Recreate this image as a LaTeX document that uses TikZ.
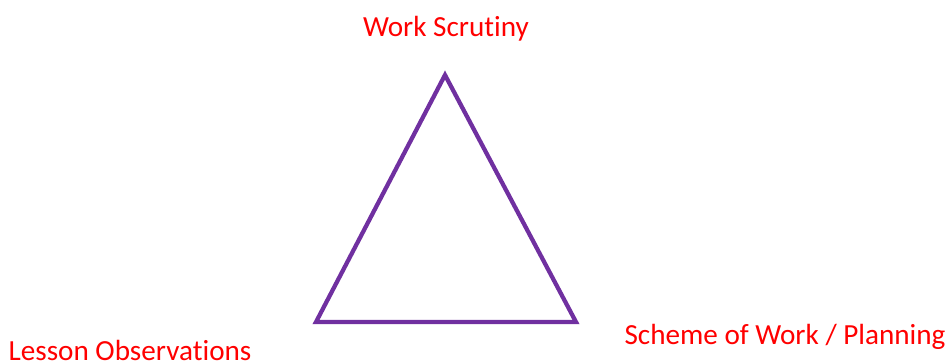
\documentclass[tikz,border=0pt]{standalone}
\usepackage{fontspec}
\setmainfont{Carlito}[Ligatures=NoCommon]
\definecolor{tripurple}{HTML}{7030A0}
\definecolor{labred}{HTML}{FF0000}
\begin{document}
\begin{tikzpicture}[x=0.02cm,y=-0.02cm,
  lab/.style={text=labred,font=\fontsize{16.6pt}{19pt}\selectfont,inner sep=0pt},
  tri/.style={draw=tripurple,line width=0.085cm,line join=miter}]
\useasboundingbox (0,0) rectangle (951,363);
\coordinate (apex) at (445,75);
\coordinate (bl) at (316,322);
\coordinate (br) at (576,322);
\draw[tri] (apex) -- (bl) -- (br) -- cycle;
\node[lab] (ws) at (446,29) {Work Scrutiny};
\node[lab] (lo) at (130,350) {Lesson Observations};
\node[lab] (sw) at (785,337) {Scheme of Work / Planning};
\end{tikzpicture}
\end{document}
